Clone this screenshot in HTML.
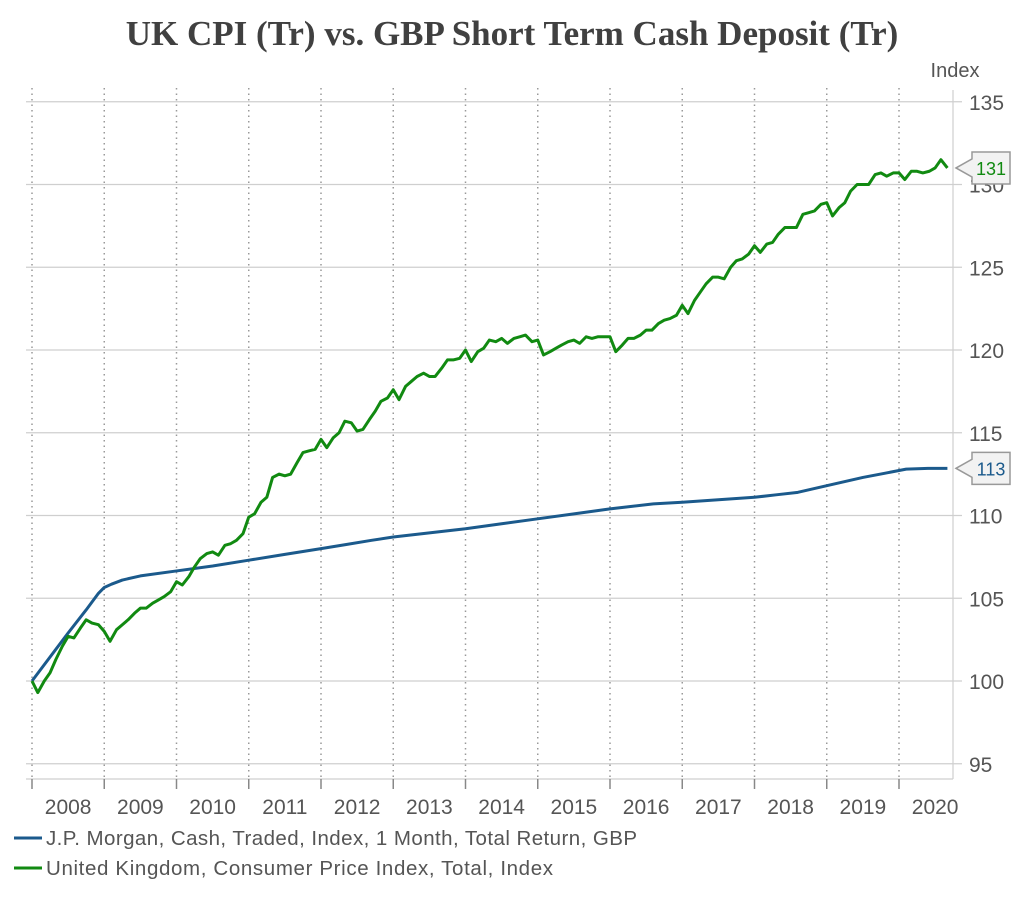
<!DOCTYPE html>
<html><head><meta charset="utf-8"><style>
body{margin:0;background:#fff;}
svg{display:block;font-family:"Liberation Sans",sans-serif;}
</style></head><body>
<svg id="chart" width="1024" height="903">
<text x="512" y="45" text-anchor="middle" font-family="Liberation Serif" font-weight="bold" font-size="35" fill="#404040">UK CPI (Tr) vs. GBP Short Term Cash Deposit (Tr)</text>
<text x="955" y="77" text-anchor="middle" font-size="20" fill="#555">Index</text>
<g id="grid"></g><g id="series"></g><g id="labels"></g>
<g>
<line x1="14" y1="838" x2="42" y2="838" stroke="#1b5a8c" stroke-width="3"/>
<text x="46" y="845" font-size="20.5" fill="#555" textLength="591">J.P. Morgan, Cash, Traded, Index, 1 Month, Total Return, GBP</text>
<line x1="14" y1="868" x2="42" y2="868" stroke="#118a11" stroke-width="3"/>
<text x="46" y="875" font-size="20.5" fill="#555" textLength="507">United Kingdom, Consumer Price Index, Total, Index</text>
</g>
</svg>
<script>
const yTicks=[95,100,105,110,115,120,125,130,135];
const years=[2008,2009,2010,2011,2012,2013,2014,2015,2016,2017,2018,2019,2020];
const cpiDates=[2008.0,2008.08,2008.17,2008.25,2008.33,2008.42,2008.5,2008.58,2008.67,2008.75,2008.83,2008.92,2009.0,2009.08,2009.17,2009.25,2009.33,2009.42,2009.5,2009.58,2009.67,2009.75,2009.83,2009.92,2010.0,2010.08,2010.17,2010.25,2010.33,2010.42,2010.5,2010.58,2010.67,2010.75,2010.83,2010.92,2011.0,2011.08,2011.17,2011.25,2011.33,2011.42,2011.5,2011.58,2011.67,2011.75,2011.83,2011.92,2012.0,2012.08,2012.17,2012.25,2012.33,2012.42,2012.5,2012.58,2012.67,2012.75,2012.83,2012.92,2013.0,2013.08,2013.17,2013.25,2013.33,2013.42,2013.5,2013.58,2013.67,2013.75,2013.83,2013.92,2014.0,2014.08,2014.17,2014.25,2014.33,2014.42,2014.5,2014.58,2014.67,2014.75,2014.83,2014.92,2015.0,2015.08,2015.17,2015.25,2015.33,2015.42,2015.5,2015.58,2015.67,2015.75,2015.83,2015.92,2016.0,2016.08,2016.17,2016.25,2016.33,2016.42,2016.5,2016.58,2016.67,2016.75,2016.83,2016.92,2017.0,2017.08,2017.17,2017.25,2017.33,2017.42,2017.5,2017.58,2017.67,2017.75,2017.83,2017.92,2018.0,2018.08,2018.17,2018.25,2018.33,2018.42,2018.5,2018.58,2018.67,2018.75,2018.83,2018.92,2019.0,2019.08,2019.17,2019.25,2019.33,2019.42,2019.5,2019.58,2019.67,2019.75,2019.83,2019.92,2020.0,2020.08,2020.17,2020.25,2020.33,2020.42,2020.5,2020.58,2020.67];
const cpiValues=[100.0,99.3,100.0,100.5,101.3,102.1,102.7,102.6,103.2,103.7,103.5,103.4,103.0,102.4,103.1,103.4,103.7,104.1,104.4,104.4,104.7,104.9,105.1,105.4,106.0,105.8,106.3,106.9,107.4,107.7,107.8,107.6,108.2,108.3,108.5,108.9,109.9,110.1,110.8,111.1,112.3,112.5,112.4,112.5,113.2,113.8,113.9,114.0,114.6,114.1,114.7,115.0,115.7,115.6,115.1,115.2,115.8,116.3,116.9,117.1,117.6,117.0,117.8,118.1,118.4,118.6,118.4,118.4,118.9,119.4,119.4,119.5,120.0,119.3,119.9,120.1,120.6,120.5,120.7,120.4,120.7,120.8,120.9,120.5,120.6,119.7,119.9,120.1,120.3,120.5,120.6,120.4,120.8,120.7,120.8,120.8,120.8,119.9,120.3,120.7,120.7,120.9,121.2,121.2,121.6,121.8,121.9,122.1,122.7,122.2,123.0,123.5,124.0,124.4,124.4,124.3,125.0,125.4,125.5,125.8,126.3,125.9,126.4,126.5,127.0,127.4,127.4,127.4,128.2,128.3,128.4,128.8,128.9,128.1,128.6,128.9,129.6,130.0,130.0,130.0,130.6,130.7,130.5,130.7,130.7,130.3,130.8,130.8,130.7,130.8,131.0,131.5,131.0];
const jpmDates=[2008.0,2008.5,2008.75,2008.92,2009.0,2009.1,2009.25,2009.5,2010.0,2010.5,2011.0,2011.5,2012.0,2012.35,2012.7,2013.0,2013.5,2014.0,2014.5,2015.0,2015.5,2016.0,2016.3,2016.6,2017.0,2017.5,2018.0,2018.3,2018.6,2019.0,2019.5,2019.8,2020.1,2020.4,2020.67];
const jpmValues=[100.0,102.9,104.3,105.3,105.65,105.85,106.1,106.35,106.65,106.95,107.3,107.65,108.0,108.25,108.5,108.7,108.95,109.2,109.5,109.8,110.1,110.4,110.55,110.7,110.8,110.95,111.1,111.25,111.4,111.8,112.3,112.55,112.8,112.85,112.85];
const x=y=>32+(y-2008)*72.25;
const yv=v=>681-(v-100)*16.55;
const NS="http://www.w3.org/2000/svg";
function mk(tag,attrs,parent){const e=document.createElementNS(NS,tag);for(const k in attrs)e.setAttribute(k,attrs[k]);parent.appendChild(e);return e;}
const grid=document.getElementById('grid');
yTicks.forEach(t=>{
  const l=mk('line',{x1:26,x2:962,y1:yv(t),y2:yv(t),stroke:'#cfcfcf','stroke-width':1.2},grid);
  
  
  const tx=mk('text',{x:969,y:yv(t)+8,'font-size':21,fill:'#555'},grid);
  tx.textContent=t;
  
  
});
mk('line',{x1:953,x2:953,y1:90,y2:779,stroke:'#cfcfcf','stroke-width':1.2},grid);
mk('line',{x1:26,x2:953,y1:779,y2:779,stroke:'#cfcfcf','stroke-width':1.2},grid);
years.forEach(yr=>{
  const l=mk('line',{x1:x(yr),x2:x(yr),y1:88,y2:779,stroke:'#999','stroke-width':1.5,'stroke-dasharray':'1.5,4'},grid);
  
  
  mk('line',{x1:x(yr),x2:x(yr),y1:779,y2:789,stroke:'#888','stroke-width':1.5},grid);
  const tx=mk('text',{x:x(yr+0.5),y:814,'font-size':21,fill:'#555','text-anchor':'middle'},grid);
  tx.textContent=yr;
  
  
});
const ser=document.getElementById('series');
function line(d,v,color,name){
  const p=mk('polyline',{points:d.map((t,i)=>x(t)+','+yv(v[i])).join(' '),fill:'none',stroke:color,'stroke-width':3,'stroke-linejoin':'round'},ser);
  
  
}
line(jpmDates,jpmValues,'#1b5a8c','jpm-cash-line');
line(cpiDates,cpiValues,'#118a11','uk-cpi-line');
const lab=document.getElementById('labels');
function flag(v,color,name){
  const cy=yv(v);
  const g=mk('g',{},lab);
  
  
  mk('path',{d:`M956,${cy} L972,${cy-9} L972,${cy-16} L1010,${cy-16} L1010,${cy+16} L972,${cy+16} L972,${cy+9} Z`,fill:'#f2f2f2',stroke:'#999','stroke-width':1.5},g);
  const t=mk('text',{x:991,y:cy+7,'font-size':18,fill:color,'text-anchor':'middle'},g);
  t.textContent=Math.round(v);
}
flag(jpmValues[jpmValues.length-1],'#1b5a8c','jpm-last-value-label');
flag(cpiValues[cpiValues.length-1],'#118a11','cpi-last-value-label');
</script>
</body></html>
